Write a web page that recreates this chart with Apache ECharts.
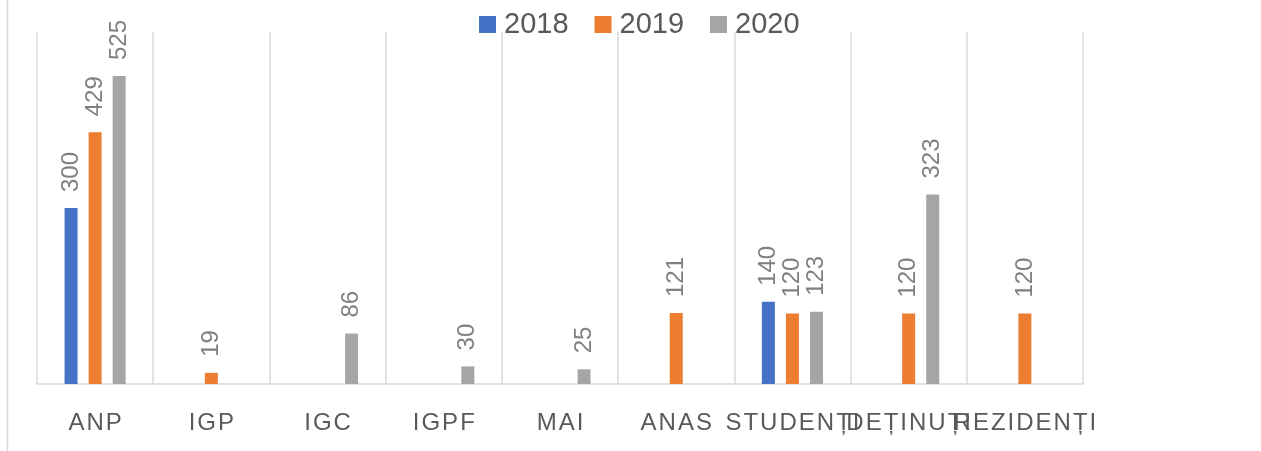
<!DOCTYPE html>
<html>
<head>
<meta charset="utf-8">
<script src="https://cdn.jsdelivr.net/npm/echarts@6/dist/echarts.min.js"></script>
<style>
  html, body { margin: 0; padding: 0; background: #fff; }
  #chart { width: 1261px; height: 451px; }
</style>
</head>
<body>
<div id="chart"></div>
<script>
// categorii si valori
const categories = ['ANP', 'IGP', 'IGC', 'IGPF', 'MAI', 'ANAS', 'STUDENȚI', 'DEȚINUȚI', 'REZIDENȚI'];
const years = ['2018', '2019', '2020'];
const v2018 = [300, '-', '-', '-', '-', '-', 140, '-', '-'];
const v2019 = [429, 19, '-', '-', '-', 121, 120, 120, 120];
const v2020 = [525, '-', 86, 30, 25, '-', 123, 323, '-'];

const colors = ['#4472C4', '#ED7D31', '#A5A5A5'];
const gridColor = '#d9d9d9';

const myChart = echarts.init(document.getElementById('chart'));

const barLabel = {
  show: true,
  position: 'top',
  rotate: 90,
  align: 'left',
  verticalAlign: 'middle',
  distance: 16,
  color: '#808080',
  fontSize: 24,
  fontFamily: 'Liberation Sans',
};

function makeSeries(name, data) {
  return {
    name: name,
    type: 'bar',
    data: data,
    barWidth: 13,
    barGap: '85%',
    label: barLabel,
  };
}

const option = {
  animation: false,
  color: colors,
  legend: {
    data: years,
    left: 479,
    top: 10,
    padding: 0,
    icon: 'rect',
    itemWidth: 17,
    itemHeight: 17,
    itemGap: 26,
    textStyle: {
      fontSize: 29,
      color: '#595959',
      fontFamily: 'Liberation Sans',
      padding: [0, 0, 0, 3],
    },
  },
  grid: {
    left: 37,
    right: 178,
    top: 32,
    bottom: 67,
  },
  xAxis: {
    type: 'category',
    data: categories,
    axisTick: { show: false },
    axisLine: { lineStyle: { color: gridColor, width: 1.5 } },
    splitLine: { show: true, lineStyle: { color: gridColor, width: 1.5 } },
    axisLabel: {
      interval: 0,
      margin: 27,
      fontSize: 24,
      color: '#595959',
      fontFamily: 'Liberation Sans',
      // spatiere intre litere ca in original
      formatter: function (v) {
        return v.split('').join('\u200A');
      },
    },
  },
  yAxis: {
    type: 'value',
    min: 0,
    max: 600,
    show: false,
  },
  graphic: [
    {
      type: 'line',
      shape: { x1: 7.5, y1: 0, x2: 7.5, y2: 451 },
      style: { stroke: gridColor, lineWidth: 1.5 },
    },
  ],
  series: [
    makeSeries(years[0], v2018),
    makeSeries(years[1], v2019),
    makeSeries(years[2], v2020),
  ],
};

myChart.setOption(option);
</script>
</body>
</html>
